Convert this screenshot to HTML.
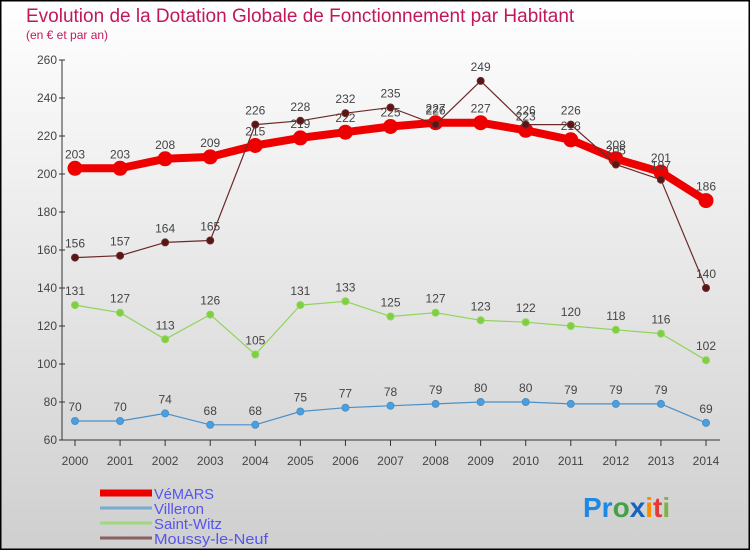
<!DOCTYPE html>
<html><head><meta charset="utf-8"><style>
body{margin:0}
#c{width:750px;height:550px;position:relative;overflow:hidden;font-family:"Liberation Sans",sans-serif}
</style></head><body>
<div id="c">
<svg id="s" width="750" height="550" xmlns="http://www.w3.org/2000/svg">
<defs><linearGradient id="bg" x1="0" y1="0" x2="0" y2="1"><stop offset="0" stop-color="#ffffff"/><stop offset="1" stop-color="#cfcfcf"/></linearGradient></defs>
<rect x="0.5" y="0.5" width="749" height="549" fill="url(#bg)" stroke="#000" stroke-width="2"/>
<text x="26" y="22" font-size="19" fill="#c2185b">Evolution de la Dotation Globale de Fonctionnement par Habitant</text>
<text x="26" y="39" font-size="12" fill="#c2185b">(en € et par an)</text>
<g id="axes"></g><g id="series"></g><g id="legend"></g>
<text x="583" y="517" font-size="28" font-weight="bold"><tspan fill="#1e88e5">Pr</tspan><tspan fill="#43a047">o</tspan><tspan fill="#1565c0">x</tspan><tspan fill="#fb8c00">i</tspan><tspan fill="#e53935">t</tspan><tspan fill="#7cb342">i</tspan></text>
</svg></div>
<script>
const years=[2000,2001,2002,2003,2004,2005,2006,2007,2008,2009,2010,2011,2012,2013,2014];
const yTicks=[60,80,100,120,140,160,180,200,220,240,260];
const vemars=[203,203,208,209,215,219,222,225,227,227,223,218,208,201,186];
const villeron=[70,70,74,68,68,75,77,78,79,80,80,79,79,79,69];
const saintWitz=[131,127,113,126,105,131,133,125,127,123,122,120,118,116,102];
const moussy=[156,157,164,165,226,228,232,235,226,249,226,226,205,197,140];
const NS="http://www.w3.org/2000/svg";
function X(i){return 75+i*(706-75)/(years.length-1);}
function Y(v){return 440-(v-60)*1.9;}
function mk(t,a,p){const e=document.createElementNS(NS,t);for(const k in a)e.setAttribute(k,a[k]);p.appendChild(e);return e;}
const ax=document.getElementById('axes');
let yl=mk('line',{x1:62,y1:60,x2:62,y2:440,stroke:'#333'},ax);


yTicks.forEach(v=>{
 mk('line',{x1:59,y1:Y(v),x2:65,y2:Y(v),stroke:'#333'},ax);
 const t=mk('text',{x:57,y:Y(v)+4,'font-size':12,fill:'#444','text-anchor':'end'},ax);t.textContent=v;
 
 
});
let xl=mk('line',{x1:62,y1:440,x2:720,y2:440,stroke:'#333'},ax);


years.forEach((y,i)=>{
 mk('line',{x1:X(i),y1:440,x2:X(i),y2:446,stroke:'#333'},ax);
 const t=mk('text',{x:X(i),y:465,'font-size':12,fill:'#444','text-anchor':'middle'},ax);t.textContent=y;
 
 
});
const sg=document.getElementById('series');
function draw(vals,color,dot,w,r,name){
 const g=mk('g',{},sg);
 
 
 mk('polyline',{points:vals.map((v,i)=>X(i)+','+Y(v)).join(' '),fill:'none',stroke:color,'stroke-width':w,'stroke-linejoin':'round'},g);
 vals.forEach((v,i)=>{
  const c=mk('circle',{cx:X(i),cy:Y(v),r:r,fill:dot,stroke:color,'stroke-width':1},g);
  
  
  const t=mk('text',{x:X(i),y:Y(v)-10,'font-size':12,fill:'#444','text-anchor':'middle'},g);t.textContent=v;
  
  
 });
}
draw(villeron,'#4a90c8','#4a9fe0',1.2,3.5,'villeron');
draw(saintWitz,'#8fd45a','#7ed040',1.2,3.5,'saint-witz');
draw(vemars,'#ee0000','#ee0000',8,7,'vemars');
draw(moussy,'#6b2a2a','#5a1515',1.2,3.5,'moussy-le-neuf');
const lg=document.getElementById('legend');
[['VéMARS','#ee0000',7],['Villeron','#7aaad0',3],['Saint-Witz','#a0d880',3],['Moussy-le-Neuf','#8a6060',3]].forEach((d,i)=>{
 const y=493+i*15;
 const l=mk('line',{x1:100,y1:y,x2:152,y2:y,stroke:d[1],'stroke-width':d[2]},lg);
 
 
 const t=mk('text',{x:154,y:y+6,'font-size':15,fill:'#5555ee',textLength:[60,50,68,114][i],lengthAdjust:'spacingAndGlyphs'},lg);t.textContent=d[0];
 
 
});
</script></body></html>
